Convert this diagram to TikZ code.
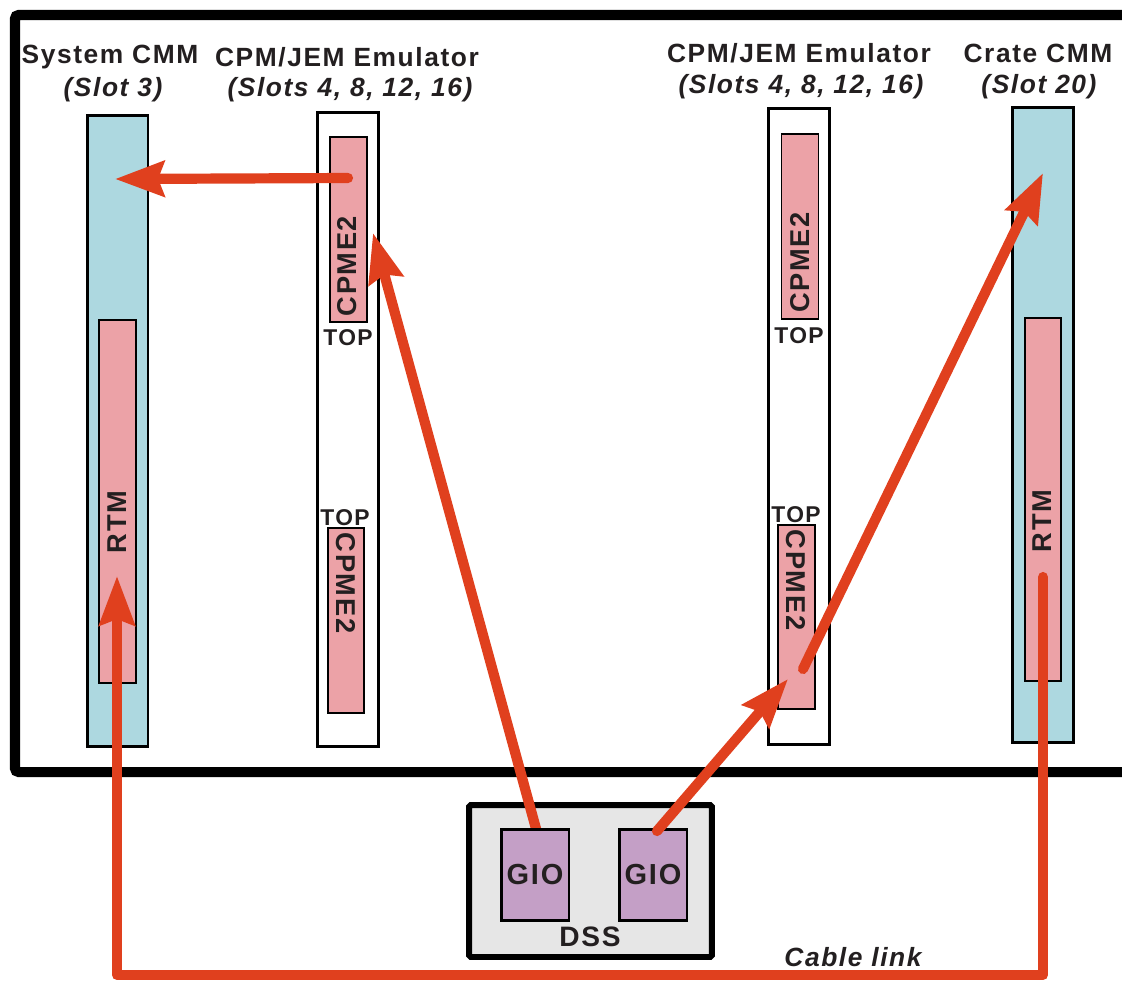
\documentclass[tikz,border=0pt]{standalone}
\usepackage{fontspec}
\setmainfont{Liberation Sans}[LetterSpace=6]
\usetikzlibrary{arrows.meta}

\definecolor{cardblue}{RGB}{173,216,224}
\definecolor{modpink}{RGB}{236,162,167}
\definecolor{linkred}{RGB}{224,64,30}
\definecolor{giopurple}{RGB}{196,159,198}
\definecolor{dssgrey}{RGB}{230,230,230}
\definecolor{ink}{RGB}{35,31,32}

\begin{document}
\begin{tikzpicture}[x=0.02cm, y=-0.02cm,
    card/.style={draw=black, line width=1.7pt, inner sep=0pt, minimum width=1.22cm},
    module/.style={draw=black, line width=0.8pt, fill=modpink, inner sep=0pt,
      minimum width=0.74cm, minimum height=3.7cm},
    gio/.style={draw=black, line width=1.7pt, fill=giopurple, inner sep=0pt,
      minimum width=1.36cm, minimum height=1.82cm,
      font=\fontsize{16.5}{18}\selectfont\bfseries, text=ink},
    title/.style={font=\fontsize{15}{18}\selectfont\bfseries, text=ink, inner sep=0pt},
    slots/.style={font=\fontsize{15}{18}\selectfont\bfseries\itshape, text=ink, inner sep=0pt},
    lbl/.style={font=\fontsize{15.5}{18}\selectfont\bfseries, text=ink, inner sep=0pt},
    toplbl/.style={font=\fontsize{13}{14}\selectfont\bfseries, text=ink, inner sep=0pt},
    link/.style={draw=linkred, line width=5.8pt, line cap=round, line join=round},
    tip/.style={-{Stealth[length=0.98cm, width=0.7cm, inset=0.12cm]}}
  ]
  \useasboundingbox (0,0) rectangle (1122,981);
  \clip (0,0) rectangle (1122,981);

  % Crate outline (runs off the right edge)
  \draw [line width=5.7pt, rounded corners=2pt] (15,15) rectangle (1140,772);

  % Titles
  \node [title] (systitle) at (110,57) {System CMM};
  \node [slots] (sysslot) at (113,90) {(Slot 3)};
  \node [title] (emuAtitle) at (347,57) {CPM/JEM Emulator};
  \node [slots] (emuAslot) at (350,90) {(Slots 4, 8, 12, 16)};
  \node [title] (emuBtitle) at (799,53) {CPM/JEM Emulator};
  \node [slots] (emuBslot) at (801,87) {(Slots 4, 8, 12, 16)};
  \node [title] (cratetitle) at (1038,53) {Crate CMM};
  \node [slots] (crateslot) at (1039,87) {(Slot 20)};

  % System CMM with its RTM
  \node [card, fill=cardblue, minimum height=12.64cm] (syscmm) at (117.5,431) {};
  \node [module, minimum height=7.26cm] (sysrtm) at (117.5,501.5) {};
  \node [lbl, rotate=90] (sysrtmtext) at (117,522) {RTM};

  % Crate CMM with its RTM
  \node [card, fill=cardblue, minimum height=12.72cm] (cratecmm) at (1042.5,425) {};
  \node [module, minimum height=7.26cm, minimum width=0.72cm] (cratertm) at (1043,499.5) {};
  \node [lbl, rotate=90] (cratertmtext) at (1042,521) {RTM};

  % Emulator cards, each with two CPME2 modules
  \node [card, fill=white, minimum height=12.7cm] (emuA) at (348,429.5) {};
  \node [module] (cpmeA1) at (348.5,229.5) {};
  \node [lbl, rotate=90] (cpmeA1text) at (347,266) {CPME2};
  \node [toplbl] (topA1) at (348,338) {TOP};
  \node [module, minimum width=0.72cm] (cpmeA2) at (346,620.5) {};
  \node [lbl, rotate=-90] (cpmeA2text) at (346,583) {CPME2};
  \node [toplbl] (topA2) at (345,518) {TOP};

  \node [card, fill=white, minimum height=12.74cm] (emuB) at (799,426.5) {};
  \node [module, minimum width=0.73cm] (cpmeB1) at (800,226.5) {};
  \node [lbl, rotate=90] (cpmeB1text) at (800,262.5) {CPME2};
  \node [toplbl] (topB1) at (799,336) {TOP};
  \node [module, minimum height=3.68cm] (cpmeB2) at (796.5,617) {};
  \node [lbl, rotate=-90] (cpmeB2text) at (796,580) {CPME2};
  \node [toplbl] (topB2) at (796,515) {TOP};

  % Link ends
  \coordinate (cpmeA1out) at (348,178);
  \coordinate (sysin) at (115,179);
  \coordinate (emuAin) at (373,233);
  \coordinate (gioAout) at (538,836);
  \coordinate (cpmeB2in) at (788,679);
  \coordinate (cpmeB2out) at (803,669);
  \coordinate (cratein) at (1043,173);
  \coordinate (cratertmout) at (1043,577);
  \coordinate (sysrtmin) at (117,576);
  \coordinate (cable) at (0,975);
  \coordinate (gioBout) at (657,831);

  % DSS box
  \node [draw=black, line width=3.4pt, rounded corners=1pt, fill=dssgrey,
    minimum width=4.86cm, minimum height=3.04cm, inner sep=0pt] (dss) at (590.5,881) {};

  % Link from the left GIO starts under its card
  \draw [link, tip] (gioAout) -- (emuAin);

  % GIO cards
  \node [gio] (gioA) at (535,874.5) {GIO};
  \node [gio] (gioB) at (653,874.5) {GIO};
  \node [lbl, font=\fontsize{16}{18}\selectfont\bfseries] (dsstext) at (590,937) {DSS};

  % Links
  \draw [link, tip] (cpmeA1out) -- (sysin);
  \draw [link, tip] (gioBout) -- (cpmeB2in);
  \draw [link, tip] (cpmeB2out) -- (cratein);
  \draw [link, tip] (cratertmout) -- (cratertmout |- cable) -| (sysrtmin);
  \node [slots] (cablelabel) at (853,957) {Cable link};
\end{tikzpicture}
\end{document}
